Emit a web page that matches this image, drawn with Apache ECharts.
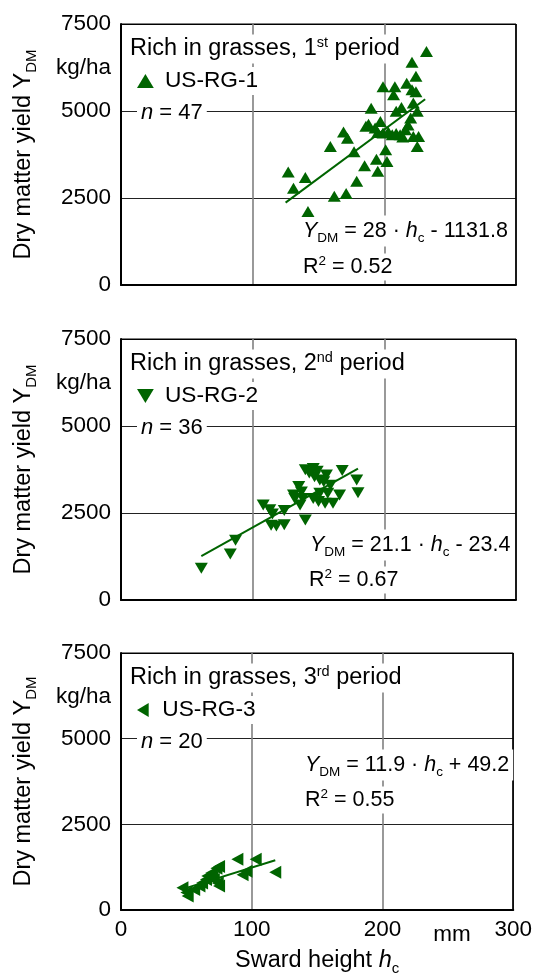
<!DOCTYPE html>
<html>
<head>
<meta charset="utf-8">
<script src="https://cdn.jsdelivr.net/npm/echarts@6/dist/echarts.min.js"></script>
<style>
html, body { margin: 0; padding: 0; background: #fff; }
#chart { width: 535px; height: 977px; }
</style>
</head>
<body>
<div id="chart"></div>
<script>
// Sward height h_c (mm) against dry matter yield Y_DM (kg/ha), grassland rich in grasses

const xTicks = [0, 100, 200, 300];
const yTicks = [0, 2500, 5000, 7500];

// 1st period (US-RG-1)
const rg1Height = [127, 140, 131, 142, 159, 169, 172, 177, 162, 171, 179, 185, 194, 202, 195, 201,
  190, 188, 193, 197, 199, 199, 207, 208, 209, 217, 221, 224, 221, 222, 225, 232,
  206, 212, 216, 218, 222, 226, 225, 186, 203, 209, 214, 220, 195, 213, 224];
const rg1Yield = [3250, 3090, 2780, 2115, 3980, 4400, 4220, 3830, 2550, 2630, 2980, 3430, 3610, 3550, 3270, 3890,
  5080, 4620, 4510, 4700, 4370, 5700, 5470, 5700, 4990, 5800, 6400, 6000, 5610, 5230, 4990, 6710,
  4320, 4320, 4460, 4600, 4270, 4270, 3980, 4560, 4400, 4350, 4250, 4800, 4380, 5100, 5550];

// 2nd period (US-RG-2)
const rg2Height = [61, 83, 87, 108, 113, 115, 124, 114, 118, 124, 132, 135, 138, 136, 140, 140,
  146, 147, 151, 156, 154, 151, 157, 150, 155, 161, 166, 168, 179, 180, 146, 131, 143, 149, 137, 159];
const rg2Yield = [910, 1320, 1720, 2730, 2590, 2470, 2570, 2150, 2130, 2160, 2920, 3260, 2920, 2730, 2300, 3740,
  3780, 3540, 3450, 3590, 3400, 3070, 3070, 2830, 2780, 2780, 3020, 3720, 3450, 3080, 2920, 3020, 3650, 3700, 3100, 3300];

// 3rd period (US-RG-3)
const rg3Height = [47, 50, 51, 56, 60, 62, 66, 69, 73, 75, 71, 74, 75, 65, 89, 103, 93, 96, 118, 70];
const rg3Yield = [650, 510, 410, 600, 700, 790, 990, 1080, 1220, 1270, 890, 790, 700, 890, 1480, 1480, 1030, 1130, 1100, 950];

// Linear fits as stated in each panel: Y_DM = slope * h_c + intercept
const fitSlope = [28, 21.1, 11.9];
const fitIntercept = [-1131.8, -23.4, 49.2];
const fitR2 = ['0.52', '0.67', '0.55'];
const fitFrom = [125, 61, 47];
const fitTo = [231, 180, 118];

const seriesNames = ['US-RG-1', 'US-RG-2', 'US-RG-3'];
const periodNumber = ['1', '2', '3'];
const periodSuffix = ['st', 'nd', 'rd'];

const heights = [rg1Height, rg2Height, rg3Height];
const yields = [rg1Yield, rg2Yield, rg3Yield];

const FONT = '"Liberation Sans", Arial, sans-serif';
const GREEN = '#006400';
const gridTops = [24, 339, 653];
const gridLeft = 121, gridWidth = 395, gridHeight = 261;
const markerRotate = [0, 180, 90];
const markerSize = [[13, 11], [13, 11], [13, 12]];
// legend glyphs: up, down and left pointing triangles
const legendIcons = ['path://M0,10L6,0L12,10Z', 'path://M0,0L12,0L6,10Z', 'path://M10,0L10,12L0,6Z'];

const chart = echarts.init(document.getElementById('chart'));

const grids = [], xAxes = [], yAxes = [], series = [], legends = [], graphics = [];

function richSet(size, subSize, lh) {
  return {
    i: { fontFamily: FONT, fontSize: size, fontStyle: 'italic', color: '#000', lineHeight: lh },
    r: { fontFamily: FONT, fontSize: size, color: '#000', lineHeight: lh },
    sub: { fontFamily: FONT, fontSize: subSize, color: '#000', lineHeight: subSize, verticalAlign: 'bottom' },
    sup: { fontFamily: FONT, fontSize: subSize, color: '#000', lineHeight: subSize, verticalAlign: 'top' }
  };
}
const axisRich = richSet(23.5, 15, 31);
const eqRich = richSet(21.5, 13.5, 29);
const supRich = richSet(21.5, 13.5, 25);
const titleRich = richSet(23.5, 14.5, 27);
const nRich = richSet(22, 14, 26);

function textEl(x, y, text, rich, size, lineHeight, align, white) {
  return {
    type: 'text',
    x: x, y: y, z: 1,
    style: {
      text: text,
      fontFamily: FONT, fontSize: size, fill: '#000',
      lineHeight: lineHeight,
      align: align || 'left',
      verticalAlign: 'middle',
      rich: rich,
      backgroundColor: white ? '#fff' : null,
      padding: white ? [1, 4, 1, 4] : 0
    }
  };
}

const eqPos = [[299, 207], [306, 206], [301, 112]];
const r2Pos = [[299, 243], [305, 241], [301, 147]];

for (let p = 0; p < 3; p++) {
  const top = gridTops[p];
  grids.push({ left: gridLeft, top: top, width: gridWidth, height: gridHeight,
    show: true, borderColor: '#000', borderWidth: 1 });

  const isLast = p === 2;
  xAxes.push({
    gridIndex: p, type: 'value', min: xTicks[0], max: xTicks[xTicks.length - 1], interval: 100,
    axisLine: { show: true, onZero: false, lineStyle: { color: '#000', width: 2 } },
    axisTick: { show: false },
    axisLabel: { show: isLast, fontFamily: FONT, fontSize: 22.5, color: '#000', margin: 8,
      formatter: v => String(v) },
    splitLine: { show: true, lineStyle: { color: ['#000', '#808080', '#808080', '#000'], width: 1.6 } },
    name: isLast ? 'Sward height {i|h}{sub|c}' : '',
    nameLocation: 'middle', nameGap: 35,
    nameTextStyle: { fontFamily: FONT, fontSize: 23.5, color: '#000', lineHeight: 31, rich: axisRich }
  });
  yAxes.push({
    gridIndex: p, type: 'value', min: yTicks[0], max: yTicks[yTicks.length - 1], interval: 2500,
    axisLine: { show: true, onZero: false, lineStyle: { color: '#000', width: 2 } },
    axisTick: { show: false },
    axisLabel: { fontFamily: FONT, fontSize: 22.5, color: '#000', margin: 10,
      formatter: v => String(v) },
    splitLine: { show: true, lineStyle: { color: ['#000', '#222', '#222', '#000'], width: 1 } },
    name: 'Dry matter yield {r|Y}{sub|DM}',
    nameLocation: 'middle', nameRotate: 90, nameGap: 82,
    nameTextStyle: { fontFamily: FONT, fontSize: 23.5, color: '#000', lineHeight: 31, rich: axisRich }
  });

  series.push({
    name: seriesNames[p], type: 'scatter', xAxisIndex: p, yAxisIndex: p,
    symbol: 'triangle', symbolSize: markerSize[p], symbolRotate: markerRotate[p],
    itemStyle: { color: GREEN, opacity: 1 }, z: 2,
    data: heights[p].map((h, k) => [h, yields[p][k]])
  });
  series.push({
    type: 'line', xAxisIndex: p, yAxisIndex: p, symbol: 'none', silent: true, z: 3,
    lineStyle: { color: GREEN, width: 2 },
    data: [fitFrom[p], fitTo[p]].map(h => [h, fitSlope[p] * h + fitIntercept[p]])
  });

  legends.push({
    data: [{ name: seriesNames[p], icon: legendIcons[p] }], left: 137, top: top + 57 - 14,
    itemWidth: 17, itemHeight: 14, itemGap: 0, symbolKeepAspect: true,
    padding: [2, 4, 2, 0], backgroundColor: '#fff',
    itemStyle: { color: GREEN },
    textStyle: { fontFamily: FONT, fontSize: 22.7, color: '#000', lineHeight: 24, padding: [0, 0, 0, 6] }
  });

  graphics.push(textEl(126, top + 25,
    'Rich in grasses, ' + periodNumber[p] + '{sup|' + periodSuffix[p] + '} period', titleRich, 23.5, 27, 'left', true));
  graphics.push(textEl(111, top + 44, 'kg/ha', null, 22.5, 26, 'right', false));
  graphics.push(textEl(137, top + 89, '{i|n} = ' + heights[p].length, nRich, 22, 26, 'left', true));

  const b = fitIntercept[p];
  const eq = '{i|Y}{sub|DM} = ' + String(fitSlope[p]) + ' · {i|h}{sub|c} ' + (b < 0 ? '- ' : '+ ') + String(Math.abs(b));
  graphics.push(textEl(eqPos[p][0], top + eqPos[p][1], eq, eqRich, 21.5, 29, 'left', true));
  graphics.push(textEl(r2Pos[p][0], top + r2Pos[p][1], 'R{sup|2} = ' + fitR2[p], supRich, 21.5, 25, 'left', true));
}

graphics.push(textEl(452, 935, 'mm', null, 22.5, 26, 'center', false));

chart.setOption({
  animation: false,
  backgroundColor: '#fff',
  grid: grids,
  xAxis: xAxes,
  yAxis: yAxes,
  legend: legends,
  series: series,
  graphic: { elements: graphics }
});
</script>
</body>
</html>
